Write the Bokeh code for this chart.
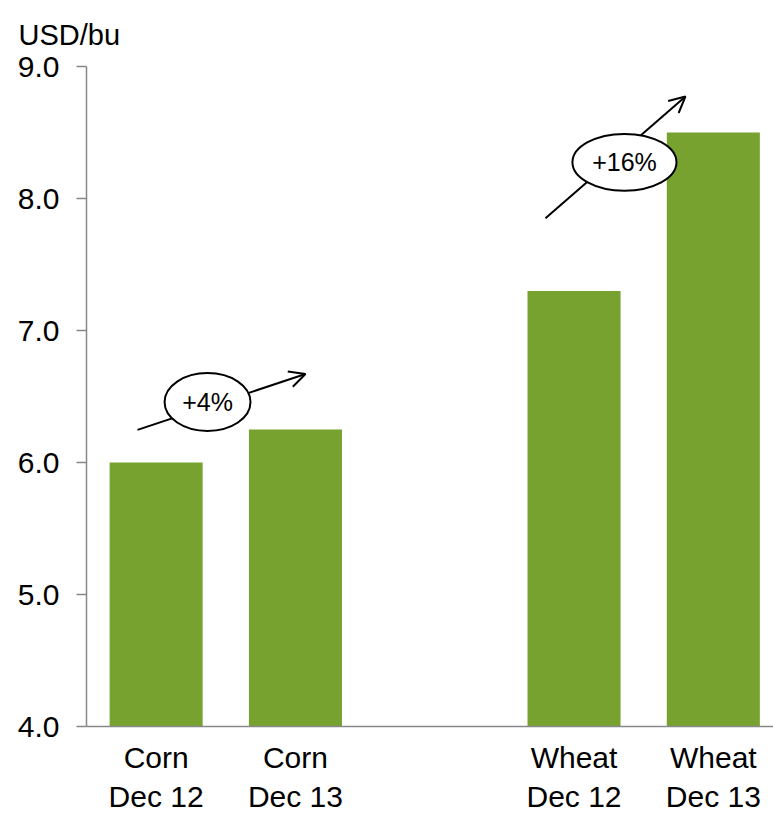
from bokeh.plotting import figure
from bokeh.models import (Range1d, FixedTicker, Arrow, OpenHead, Title,
                          ColumnDataSource, PrintfTickFormatter)
from bokeh.core.properties import value
from bokeh.embed import file_html
from bokeh.resources import INLINE

# ---- data ----
slots = ["Corn\nDec 12", "Corn\nDec 13", "", "Wheat\nDec 12", "Wheat\nDec 13"]
categories = ["Corn\nDec 12", "Corn\nDec 13", "Wheat\nDec 12", "Wheat\nDec 13"]
prices = [6.0, 6.25, 7.3, 8.5]
y_ticks = [4.0, 5.0, 6.0, 7.0, 8.0, 9.0]
changes = ["+4%", "+16%"]

FONT = "Liberation Sans"
GREEN = "#78a22f"
AXIS = "#888888"

xs = [slots.index(c) for c in categories]
src = ColumnDataSource(dict(x=xs, top=prices, cat=categories))

p = figure(width=773, height=816, output_backend="svg", toolbar_location=None,
           x_range=Range1d(-0.5, 4.432), y_range=Range1d(4.0, 9.0),
           min_border_left=86, min_border_right=0, min_border_top=65,
           min_border_bottom=90)
p.outline_line_color = None
p.xgrid.visible = False
p.ygrid.visible = False
p.background_fill_color = "white"

p.title = Title(text="USD/bu", align="left", offset=-68, standoff=32,
                text_font=FONT, text_font_size="29px", text_color="black",
                text_font_style="normal")

p.vbar(x="x", top="top", bottom=4.0, width=0.668, source=src,
       fill_color=GREEN, line_color=None)

# y axis
p.yaxis.ticker = FixedTicker(ticks=y_ticks)
p.yaxis.formatter = PrintfTickFormatter(format="%.1f")
p.yaxis.axis_line_color = AXIS
p.yaxis.axis_line_width = 1.5
p.yaxis.major_tick_line_color = AXIS
p.yaxis.major_tick_line_width = 1.5
p.yaxis.major_tick_out = 10
p.yaxis.major_tick_in = 0
p.yaxis.minor_tick_line_color = None
p.yaxis.major_label_text_font = FONT
p.yaxis.major_label_text_font_size = "30px"
p.yaxis.major_label_text_color = "black"
p.yaxis.major_label_standoff = 17

# x axis
p.xaxis.ticker = FixedTicker(ticks=xs)
p.xaxis.major_label_overrides = {x: c for x, c in zip(xs, categories)}
p.xaxis.axis_line_color = AXIS
p.xaxis.axis_line_width = 1.5
p.xaxis.major_tick_line_color = None
p.xaxis.minor_tick_line_color = None
p.xaxis.major_label_text_font = FONT
p.xaxis.major_label_text_font_size = "30px"
p.xaxis.major_label_text_color = "black"
p.xaxis.major_label_standoff = 8

# change annotations (arrow under ellipse)
arrows = [((-0.134, 6.247), (1.072, 6.670)), ((2.795, 7.850), (3.800, 8.773))]
for (x0, y0), (x1, y1) in arrows:
    a = Arrow(x_start=x0, y_start=y0, x_end=x1, y_end=y1, line_width=2,
              line_color="black",
              end=OpenHead(size=16, line_width=2, line_color="black"),
              level="underlay")
    p.add_layout(a)

ell = ColumnDataSource(dict(x=[0.369, 3.362], y=[6.458, 8.274],
                            w=[0.617, 0.747], h=[0.439, 0.431], t=changes))
p.ellipse(x="x", y="y", width="w", height="h", source=ell,
          fill_color="white", line_color="black", line_width=2)
p.text(x="x", y="y", text="t", source=ell, text_font=value(FONT),
       text_font_size="25px", text_align="center", text_baseline="middle",
       text_color="black")

open("out.html", "w").write(file_html(p, INLINE))
